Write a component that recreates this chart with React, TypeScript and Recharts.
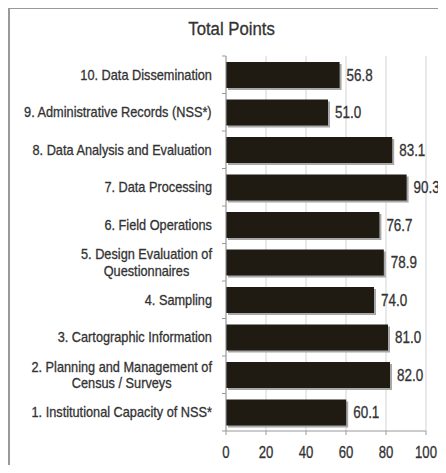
import React from "react";
import {
  BarChart,
  Bar,
  XAxis,
  YAxis,
  CartesianGrid,
  LabelList,
} from "recharts";

// no Arial Narrow in the sandbox, so squeeze Liberation Sans horizontally
const FONT = "'Liberation Sans', Arial, sans-serif";
const INK = "#333";

const categories = [
  "1. Institutional Capacity of NSS*",
  "2. Planning and Management of\nCensus / Surveys",
  "3. Cartographic Information",
  "4. Sampling",
  "5. Design Evaluation of\nQuestionnaires",
  "6. Field Operations",
  "7. Data Processing",
  "8. Data Analysis and Evaluation",
  "9. Administrative Records (NSS*)",
  "10. Data Dissemination",
];
const totalPoints = [60.1, 82.0, 81.0, 74.0, 78.9, 76.7, 90.3, 83.1, 51.0, 56.8];
const xTicks = [0, 20, 40, 60, 80, 100];

const data = categories.map((name, i) => ({ name, value: totalPoints[i] }));

let ctx: CanvasRenderingContext2D | null = null;
function textWidth(s: string, size: number, squeeze: number) {
  if (!ctx) ctx = document.createElement("canvas").getContext("2d");
  if (!ctx) return s.length * size * 0.5 * squeeze;
  ctx.font = `${size}px ${FONT}`;
  return ctx.measureText(s).width * squeeze;
}

function NarrowText({ x, y, size, anchor, squeeze, children, dy = "0.36em" }: any) {
  return (
    <g transform={`translate(${x},${y}) scale(${squeeze},1)`}>
      <text
        x={0}
        y={0}
        dy={dy}
        textAnchor={anchor}
        fontSize={size}
        fontFamily={FONT}
        fill={INK}
        stroke={INK}
        strokeWidth={0.3}
      >
        {children}
      </text>
    </g>
  );
}

const HALF_BAND = 18.75;
const CAT_SQ = 0.91;

function CategoryTick(props: any) {
  const { x, y, payload, index } = props;
  const lines = String(payload.value).split("\n");
  const size = 14;
  const cx = x - textWidth(lines[0], size, CAT_SQ) / 2;
  const lh = 16.6;
  const startY = y - ((lines.length - 1) * lh) / 2;
  return (
    <g>
      <line x1={x + 10} x2={x + 14} y1={y - HALF_BAND} y2={y - HALF_BAND} stroke="#999" />
      {index === 0 && (
        <line x1={x + 10} x2={x + 14} y1={y + HALF_BAND} y2={y + HALF_BAND} stroke="#999" />
      )}
      {lines.map((l: string, i: number) => (
        <NarrowText key={i} x={cx} y={startY + i * lh} size={size} anchor="middle" squeeze={CAT_SQ}>
          {l}
        </NarrowText>
      ))}
    </g>
  );
}

function ValueTick(props: any) {
  const { x, y, payload } = props;
  return (
    <NarrowText x={x} y={y} size={16} anchor="middle" dy="0.71em" squeeze={0.82}>
      {payload.value}
    </NarrowText>
  );
}

function ValueLabel(props: any) {
  const { x, y, width, height, value } = props;
  return (
    <NarrowText x={x + width + 7} y={y + height / 2} size={16} anchor="start" squeeze={0.84}>
      {Number(value).toFixed(1)}
    </NarrowText>
  );
}

function ShadowBar(props: any) {
  const { x, y, width, height } = props;
  if (width <= 0) return null;
  return (
    <g>
      <rect x={x + 2} y={y + 2} width={width} height={height} fill="#a8a8a8" />
      <rect x={x} y={y} width={width} height={height} fill="#1f1b13" />
    </g>
  );
}

export default function App() {
  return (
    <div
      style={{
        position: "relative",
        width: 446,
        height: 473,
        margin: -8,
        overflow: "hidden",
        background: "#fff",
      }}
    >
      <div
        style={{
          position: "absolute",
          left: -30,
          top: -25,
          whiteSpace: "nowrap",
          fontFamily: FONT,
          fontSize: 30,
          lineHeight: "30px",
          color: "#444",
        }}
      >
        Performance Scores (Overall Average for System), by Pillar
      </div>
      <div
        style={{
          position: "absolute",
          left: 8,
          top: 7,
          width: 500,
          height: 500,
          borderLeft: "2px solid #999",
          borderTop: "2px solid #999",
        }}
      />
      <div
        style={{
          position: "absolute",
          left: 0,
          top: 19,
          width: 446,
          textAlign: "center",
          paddingLeft: 18,
          boxSizing: "border-box",
          fontFamily: FONT,
          fontSize: 18,
          color: INK,
          WebkitTextStroke: "0.3px #333",
        }}
      >
        <span style={{ display: "inline-block", transform: "scaleX(0.93)" }}>Total Points</span>
      </div>
      <div style={{ position: "absolute", left: 0, top: 0 }}>
        <BarChart
          width={446}
          height={473}
          data={data}
          layout="vertical"
          margin={{ top: 56, right: 20, bottom: 12, left: 0 }}
          barSize={26}
          style={{ overflow: "visible" }}
        >
          <CartesianGrid horizontal={false} stroke="#d4d4d4" />
          <XAxis
            type="number"
            domain={[0, 100]}
            ticks={xTicks}
            height={30}
            tickSize={4}
            tickMargin={12}
            stroke="#999"
            tick={<ValueTick />}
          />
          <YAxis
            type="category"
            dataKey="name"
            reversed
            width={226}
            tickSize={4}
            tickMargin={10}
            tickLine={false}
            stroke="#999"
            interval={0}
            tick={<CategoryTick />}
          />
          <Bar dataKey="value" isAnimationActive={false} shape={<ShadowBar />}>
            <LabelList dataKey="value" content={<ValueLabel />} />
          </Bar>
        </BarChart>
      </div>
    </div>
  );
}
